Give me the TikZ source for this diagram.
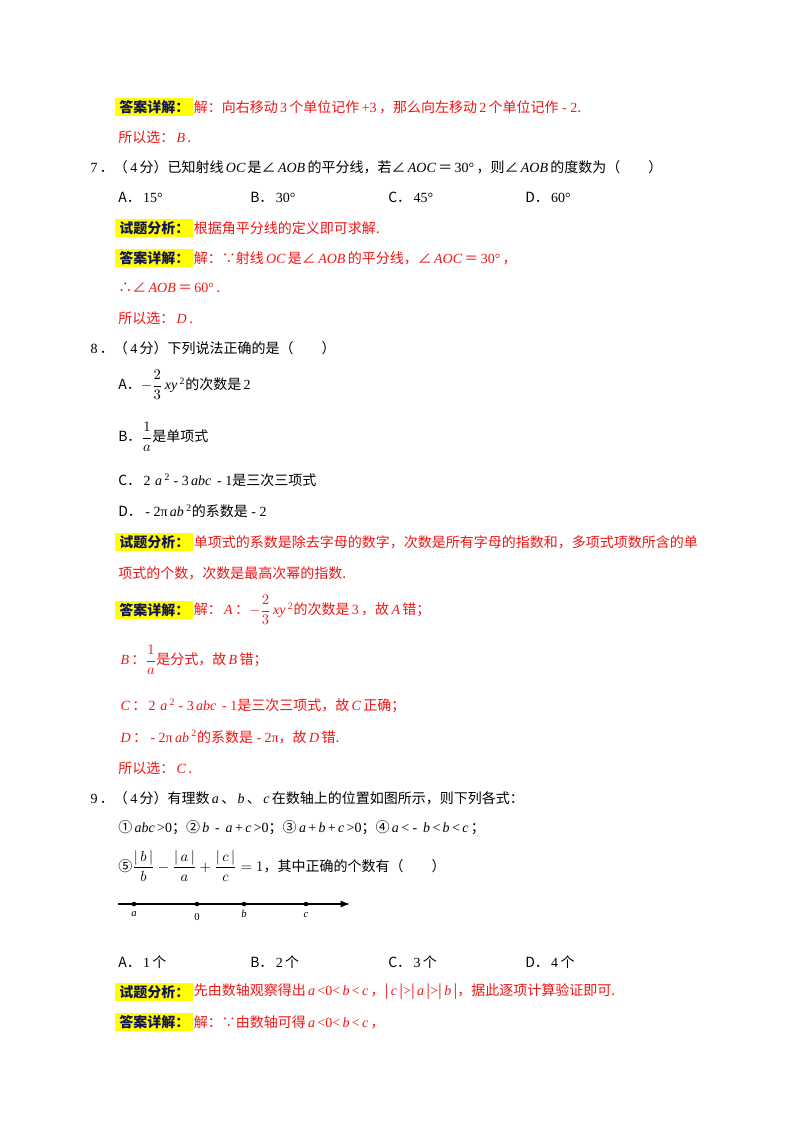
\documentclass[tikz,border=0pt]{standalone}
\usepackage{amsmath}
\usepackage{fontspec}
\usetikzlibrary{arrows.meta}
\setmainfont{Noto Sans CJK SC}
\newfontfamily\lat{Liberation Serif}
\newcommand\mi[1]{\,{\lat\itshape #1}\,}
\newcommand\mr[1]{\,{\lat #1}\,}
\newcommand\mn{{\lat\ -\ }}
\definecolor{ansred}{RGB}{240,20,20}
\definecolor{hlyel}{RGB}{255,255,0}
\definecolor{navy}{RGB}{20,20,80}
\begin{document}
\begin{tikzpicture}[x=0.75pt,y=-0.75pt,
  t/.style={anchor=west,inner sep=0,font=\fontsize{10.5}{12}\selectfont},
  r/.style={t,text=ansred},
  hl/.style={t,fill=hlyel,text=navy,font=\fontsize{10.5}{12}\selectfont\bfseries,inner xsep=3pt,inner ysep=1.5pt},
  dot/.style={circle,fill=black,inner sep=1.2pt}]
\useasboundingbox (0,0) rectangle (800,1132);
% top
\node[hl] (h1) at (115,107) {答案详解：};
\node[r] (l1) at (h1.east) {解：向右移动\mr{3}个单位记作\mr{+3}，那么向左移动\mr{2}个单位记作\mn{\lat 2}.};
\node[r] (l2) at (118,137) {所以选：\mi{B}.};
% Q7
\node[t] (q7) at (88,167) {\mr{7}．（\mr{4}分）已知射线\mi{OC}是∠\mi{AOB}的平分线，若∠\mi{AOC}＝\mr{30°}，则∠\mi{AOB}的度数为（　　）};
\node[t] (q7a) at (118,197) {A．\mr{15°}};
\node[t] (q7b) at (250,197) {B．\mr{30°}};
\node[t] (q7c) at (388,197) {C．\mr{45°}};
\node[t] (q7d) at (525,197) {D．\mr{60°}};
\node[hl] (h2) at (115,228) {试题分析：};
\node[r] (l3) at (h2.east) {根据角平分线的定义即可求解.};
\node[hl] (h3) at (115,258) {答案详解：};
\node[r] (l4) at (h3.east) {解：∵射线\mi{OC}是∠\mi{AOB}的平分线，∠\mi{AOC}＝\mr{30°}，};
\node[r] (l5) at (118,288) {∴∠\mi{AOB}＝\mr{60°}.};
\node[r] (l6) at (118,318) {所以选：\mi{D}.};
% Q8
\node[t] (q8) at (88,348) {\mr{8}．（\mr{4}分）下列说法正确的是（　　）};
\node[t] (q8a) at (118,385) {A．$-\dfrac{2}{3}$\mi{xy}\textsuperscript{\lat 2}的次数是\mr{2}};
\node[t] (q8b) at (118,437) {B．$\dfrac{1}{a}$是单项式};
\node[t] (q8c) at (118,480) {C．\mr{2}\mi{a}\textsuperscript{\lat 2}\mn{\lat 3}\mi{abc}\mn{\lat 1}是三次三项式};
\node[t] (q8d) at (118,511) {D．\mn{\lat 2π}\mi{ab}\textsuperscript{\lat 2}的系数是\mn{\lat 2}};
\node[hl] (h4) at (115,542) {试题分析：};
\node[r] (l7) at (h4.east) {单项式的系数是除去字母的数字，次数是所有字母的指数和，多项式项数所含的单};
\node[r] (l8) at (118,573) {项式的个数，次数是最高次幂的指数.};
\node[hl] (h5) at (115,610) {答案详解：};
\node[r] (l9) at (h5.east) {解：\mi{A}：$-\dfrac{2}{3}$\mi{xy}\textsuperscript{\lat 2}的次数是\mr{3}，故\mi{A}错；};
\node[r] (l10) at (118,660) {\mi{B}：$\dfrac{1}{a}$是分式，故\mi{B}错；};
\node[r] (l11) at (118,706) {\mi{C}：\mr{2}\mi{a}\textsuperscript{\lat 2}\mn{\lat 3}\mi{abc}\mn{\lat 1}是三次三项式，故\mi{C}正确；};
\node[r] (l12) at (118,737) {\mi{D}：\mn{\lat 2π}\mi{ab}\textsuperscript{\lat 2}的系数是\mn{\lat 2π}，故\mi{D}错.};
\node[r] (l13) at (118,768) {所以选：\mi{C}.};
% Q9
\node[t] (q9) at (88,798) {\mr{9}．（\mr{4}分）有理数\mi{a}、\mi{b}、\mi{c}在数轴上的位置如图所示，则下列各式：};
\node[t] (q9s) at (118,828) {①\mi{abc}{\lat >0}；②\mi{b}\mn\mi{a}{\lat +}\mi{c}{\lat >0}；③\mi{a}{\lat +}\mi{b}{\lat +}\mi{c}{\lat >0}；④\mi{a}{\lat <}\mn\mi{b}{\lat <}\mi{b}{\lat <}\mi{c}；};
\node[t] (q9f) at (118,866) {⑤$\dfrac{|\,b\,|}{b}-\dfrac{|\,a\,|}{a}+\dfrac{|\,c\,|}{c}=1$，其中正确的个数有（　　）};
% number line
\coordinate (n0) at (118,904);
\coordinate (n1) at (350,904);
\draw[line width=1pt,-{Latex[length=7pt]}] (n0) -- (n1);
\node[dot] (pa) at (134,904) {};
\node[dot] (p0) at (197,904) {};
\node[dot] (pb) at (244,904) {};
\node[dot] (pc) at (306,904) {};
\node[font=\footnotesize\lat\itshape] (la) at (134,914) {a};
\node[font=\footnotesize\lat] (l0) at (197,917) {0};
\node[font=\footnotesize\lat\itshape] (lb) at (244,914) {b};
\node[font=\footnotesize\lat\itshape] (lc) at (306,915) {c};
\node[t] (q9a) at (118,962) {A．\mr{1}个};
\node[t] (q9b) at (250,962) {B．\mr{2}个};
\node[t] (q9c) at (388,962) {C．\mr{3}个};
\node[t] (q9d) at (525,962) {D．\mr{4}个};
\node[hl] (h6) at (115,992) {试题分析：};
\node[r] (l14) at (h6.east) {先由数轴观察得出\mi{a}{\lat <0<}\mi{b}{\lat <}\mi{c}，|\mi{c}|{\lat >}|\mi{a}|{\lat >}|\mi{b}|，据此逐项计算验证即可.};
\node[hl] (h7) at (115,1022) {答案详解：};
\node[r] (l15) at (h7.east) {解：∵由数轴可得\mi{a}{\lat <0<}\mi{b}{\lat <}\mi{c}，};
\end{tikzpicture}
\end{document}
